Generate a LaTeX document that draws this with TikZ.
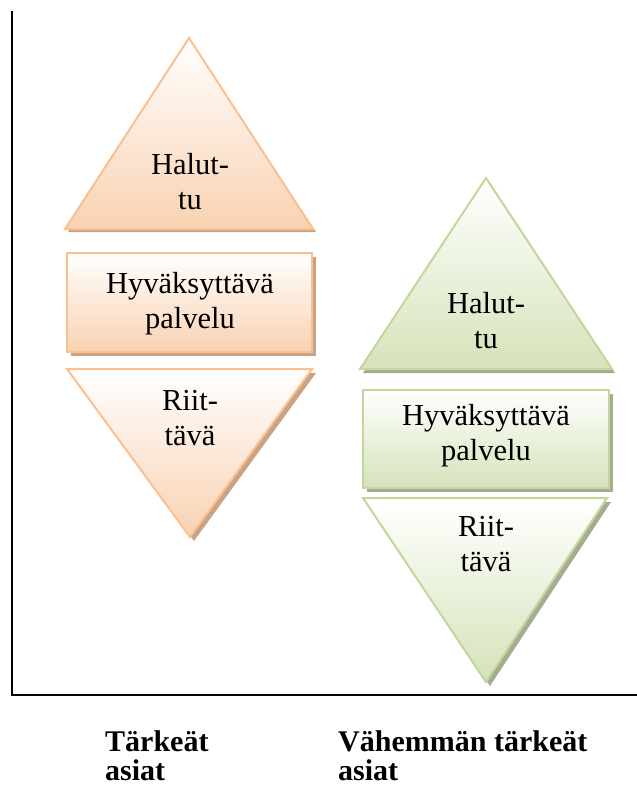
\documentclass[tikz,border=0pt]{standalone}
\usepackage{fontspec}
\setmainfont{Liberation Serif}
\begin{document}
\begin{tikzpicture}[x=1pt,y=-1pt,
  lbl/.style={align=center, inner sep=0pt, font=\fontsize{30.5}{35}\selectfont},
  axislbl/.style={align=left, anchor=north west, inner sep=0pt, font=\bfseries\fontsize{30}{29}\selectfont},
  axis/.style={line width=2.4pt, black}]
\definecolor{peachline}{HTML}{FAC090}
\definecolor{peachfill}{HTML}{F9D2B2}
\definecolor{peachshadow}{HTML}{C9A384}
\definecolor{greenline}{HTML}{C3D69B}
\definecolor{greenfill}{HTML}{D5E3BA}
\definecolor{greenshadow}{HTML}{A4AC92}
\useasboundingbox (0,0) rectangle (637,787);
\fill[white] (0,0) rectangle (637,787);

% axes
\coordinate (top) at (12,11);
\coordinate (orig) at (12,695);
\coordinate (right) at (637,695);
\draw[axis] (top) -- (orig) -- (right);

% left column (orange)
\fill[peachshadow] (191,42) -- (316,232) -- (68,232) -- cycle;
\shade[top color=white, bottom color=peachfill, draw=peachline, line width=2pt]
  (189,38) -- (313,229) -- (65,229) -- cycle;
\fill[peachshadow] (71,257) rectangle (316,356);
\shade[top color=white, bottom color=peachfill, draw=peachline, line width=2pt]
  (67,253) rectangle (312,352);
\fill[peachshadow] (71,373) -- (316,373) -- (194,541) -- cycle;
\shade[top color=white, bottom color=peachfill, draw=peachline, line width=2pt]
  (67,369) -- (312,369) -- (190,537) -- cycle;

% right column (green)
\fill[greenshadow] (488,182) -- (615,373) -- (363,373) -- cycle;
\shade[top color=white, bottom color=greenfill, draw=greenline, line width=2pt]
  (486,178) -- (612,369) -- (360,369) -- cycle;
\fill[greenshadow] (367,394) rectangle (613,492);
\shade[top color=white, bottom color=greenfill, draw=greenline, line width=2pt]
  (363,390) rectangle (609,488);
\fill[greenshadow] (367,502) -- (611,502) -- (490,686) -- cycle;
\shade[top color=white, bottom color=greenfill, draw=greenline, line width=2pt]
  (363,498) -- (607,498) -- (486,682) -- cycle;

% labels inside the shapes
\node[lbl] (lhi)  at (190,182) {Halut-\\tu};
\node[lbl] (lmid) at (190,304) {Hyväksyttävä\\palvelu};
\node[lbl] (llo)  at (190,418) {Riit-\\tävä};
\node[lbl] (rhi)  at (486,321) {Halut-\\tu};
\node[lbl] (rmid) at (486,436) {Hyväksyttävä\\palvelu};
\node[lbl] (rlo)  at (486,544) {Riit-\\tävä};

% column captions
\node[axislbl] (capl) at (105,730) {Tärkeät\\asiat};
\node[axislbl] (capr) at (338,730) {Vähemmän tärkeät\\asiat};
\end{tikzpicture}
\end{document}
